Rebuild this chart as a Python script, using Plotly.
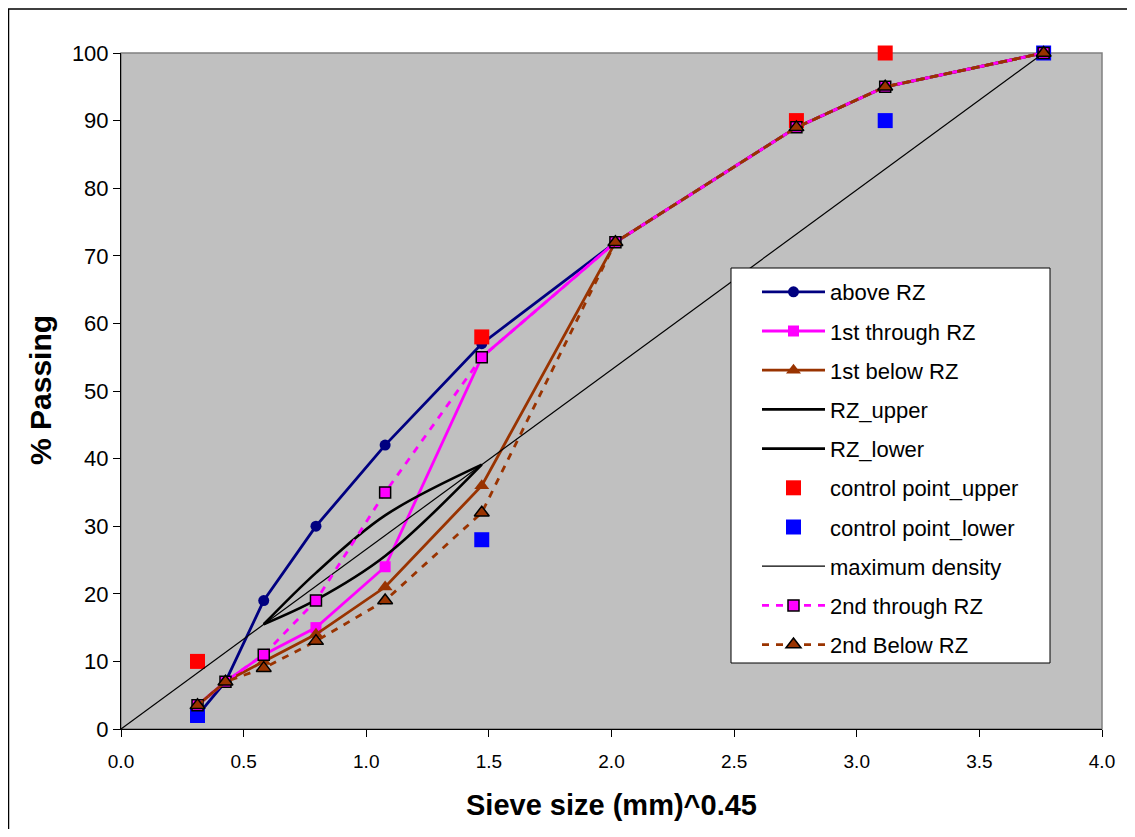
import plotly.graph_objects as go

# Sieve sizes raised to 0.45 power
sieve_x = [0.312, 0.426, 0.582, 0.795, 1.077, 1.471, 2.016, 2.754, 3.116, 3.762]

above_rz = [2, 7, 19, 30, 42, 57, 72, 89, 95, 100]
first_through_rz = [3.5, 7, 11, 15, 24, 55, 72, 89, 95, 100]
first_below_rz = [3.5, 7, 10, 14, 21, 36, 72, 89, 95, 100]
second_through_rz = [3.5, 7, 11, 19, 35, 55, 72, 89, 95, 100]
second_below_rz = [3.5, 7, 9, 13, 19, 32, 72, 89, 95, 100]

rz_x = [0.582, 0.795, 1.077, 1.471]
rz_upper = [15.5, 23.1, 31.6, 39.1]
rz_lower = [15.5, 19.1, 25.6, 39.1]

cp_upper_x = [0.312, 1.471, 2.754, 3.116]
cp_upper_y = [10, 58, 90, 100]
cp_lower_x = [0.312, 1.471, 3.116, 3.762]
cp_lower_y = [2, 28, 90, 100]

maxden_x = [0.0, 3.762]
maxden_y = [0, 100]

x_ticks = [0.0, 0.5, 1.0, 1.5, 2.0, 2.5, 3.0, 3.5, 4.0]
y_ticks = [0, 10, 20, 30, 40, 50, 60, 70, 80, 90, 100]

NAVY = "#000080"
MAGENTA = "#FF00FF"
BROWN = "#993300"

fig = go.Figure()

def add(**kw):
    kw.setdefault("cliponaxis", False)
    kw.setdefault("legendgroup", kw["name"])
    fig.add_trace(go.Scatter(**kw))

add(x=sieve_x, y=above_rz, name="above RZ", mode="lines+markers",
    line=dict(color=NAVY, width=2.8),
    marker=dict(symbol="circle", size=11, color=NAVY))
add(x=sieve_x, y=first_through_rz, name="1st through RZ", mode="lines+markers",
    line=dict(color=MAGENTA, width=2.8),
    marker=dict(symbol="square", size=11, color=MAGENTA))
add(x=sieve_x, y=first_below_rz, name="1st below RZ", mode="lines+markers",
    line=dict(color=BROWN, width=2.8),
    marker=dict(symbol="triangle-up", size=13, color=BROWN))
add(x=rz_x, y=rz_upper, name="RZ_upper", mode="lines",
    line=dict(color="black", width=2.6, shape="spline", smoothing=1))
add(x=rz_x, y=rz_lower, name="RZ_lower", mode="lines",
    line=dict(color="black", width=2.6, shape="spline", smoothing=1))
add(x=cp_upper_x, y=cp_upper_y, name="control point_upper", mode="markers",
    marker=dict(symbol="square", size=15, color="#FF0000"))
add(x=cp_lower_x, y=cp_lower_y, name="control point_lower", mode="markers",
    marker=dict(symbol="square", size=15, color="#0000FF"))
add(x=maxden_x, y=maxden_y, name="maximum density", mode="lines",
    line=dict(color="black", width=1.2))
add(x=sieve_x, y=second_through_rz, name="2nd through RZ", mode="lines+markers",
    line=dict(color=MAGENTA, width=2.8, dash="7px,7px"),
    marker=dict(symbol="square", size=11, color=MAGENTA,
                line=dict(color="black", width=1.5)))
add(x=sieve_x, y=second_below_rz, name="2nd Below RZ", mode="lines+markers",
    line=dict(color=BROWN, width=2.8, dash="7px,7px"),
    marker=dict(symbol="triangle-up", size=13, color=BROWN,
                line=dict(color="black", width=1.5)))

FONT = "Liberation Sans, Arial, sans-serif"

# page body has an 8px margin; plot area targeted at page x 121..1102, y 53..729
L, T = 113, 45
W, H = 1119, 821
PW, PH = 981, 676

fig.update_layout(
    width=W, height=H,
    margin=dict(l=L, r=W - L - PW, t=T, b=H - T - PH, autoexpand=False),
    paper_bgcolor="white",
    plot_bgcolor="#C0C0C0",
    font=dict(family=FONT, color="black", size=18),
    showlegend=True,
    legend=dict(
        x=(757 - 121) / PW, y=(729 - 271) / PH, xanchor="left", yanchor="top",
        bgcolor="rgba(0,0,0,0)", borderwidth=0,
        font=dict(family=FONT, size=22, color="black"),
        tracegroupgap=7.6, itemwidth=63,
    ),
    xaxis=dict(
        range=[0, 4], tickvals=x_ticks, ticktext=[f"{v:.1f}" for v in x_ticks],
        showgrid=False, zeroline=False, showline=True, linecolor="black", linewidth=1,
        ticks="outside", ticklen=7, tickcolor="black", tickwidth=1,
        tickfont=dict(size=19, family=FONT), ticklabelstandoff=8, fixedrange=True,
    ),
    yaxis=dict(
        range=[0, 100], tickvals=y_ticks,
        showgrid=False, zeroline=False, showline=True, linecolor="black", linewidth=1,
        ticks="outside", ticklen=7, tickcolor="black", tickwidth=1,
        tickfont=dict(size=22, family=FONT), fixedrange=True,
    ),
    shapes=[
        dict(type="rect", xref="paper", yref="paper", x0=0, x1=1, y0=0, y1=1,
             line=dict(color="#808080", width=1.5), layer="below"),
        dict(type="rect", xref="paper", yref="paper", x0=(8.5 - 121) / PW, x1=1.06,
             y0=-0.2, y1=(729 - 9) / PH, line=dict(color="black", width=1.5), layer="below"),
        dict(type="rect", xref="paper", yref="paper",
             x0=(731 - 121) / PW, x1=(1050 - 121) / PW,
             y0=(729 - 663) / PH, y1=(729 - 268) / PH,
             fillcolor="white", line=dict(color="black", width=1), layer="above"),
    ],
    annotations=[
        dict(text="<b>Sieve size (mm)^0.45</b>", xref="paper", yref="paper",
             x=0.5, y=(729 - 805) / PH, xanchor="center", yanchor="middle", showarrow=False,
             font=dict(family=FONT, size=29, color="black")),
        dict(text="<b>% Passing</b>", xref="paper", yref="paper",
             x=(40 - 121) / PW, y=(729 - 390) / PH, xanchor="center", yanchor="middle",
             showarrow=False, textangle=-90,
             font=dict(family=FONT, size=30, color="black")),
    ],
)

fig.write_html("out.html")
